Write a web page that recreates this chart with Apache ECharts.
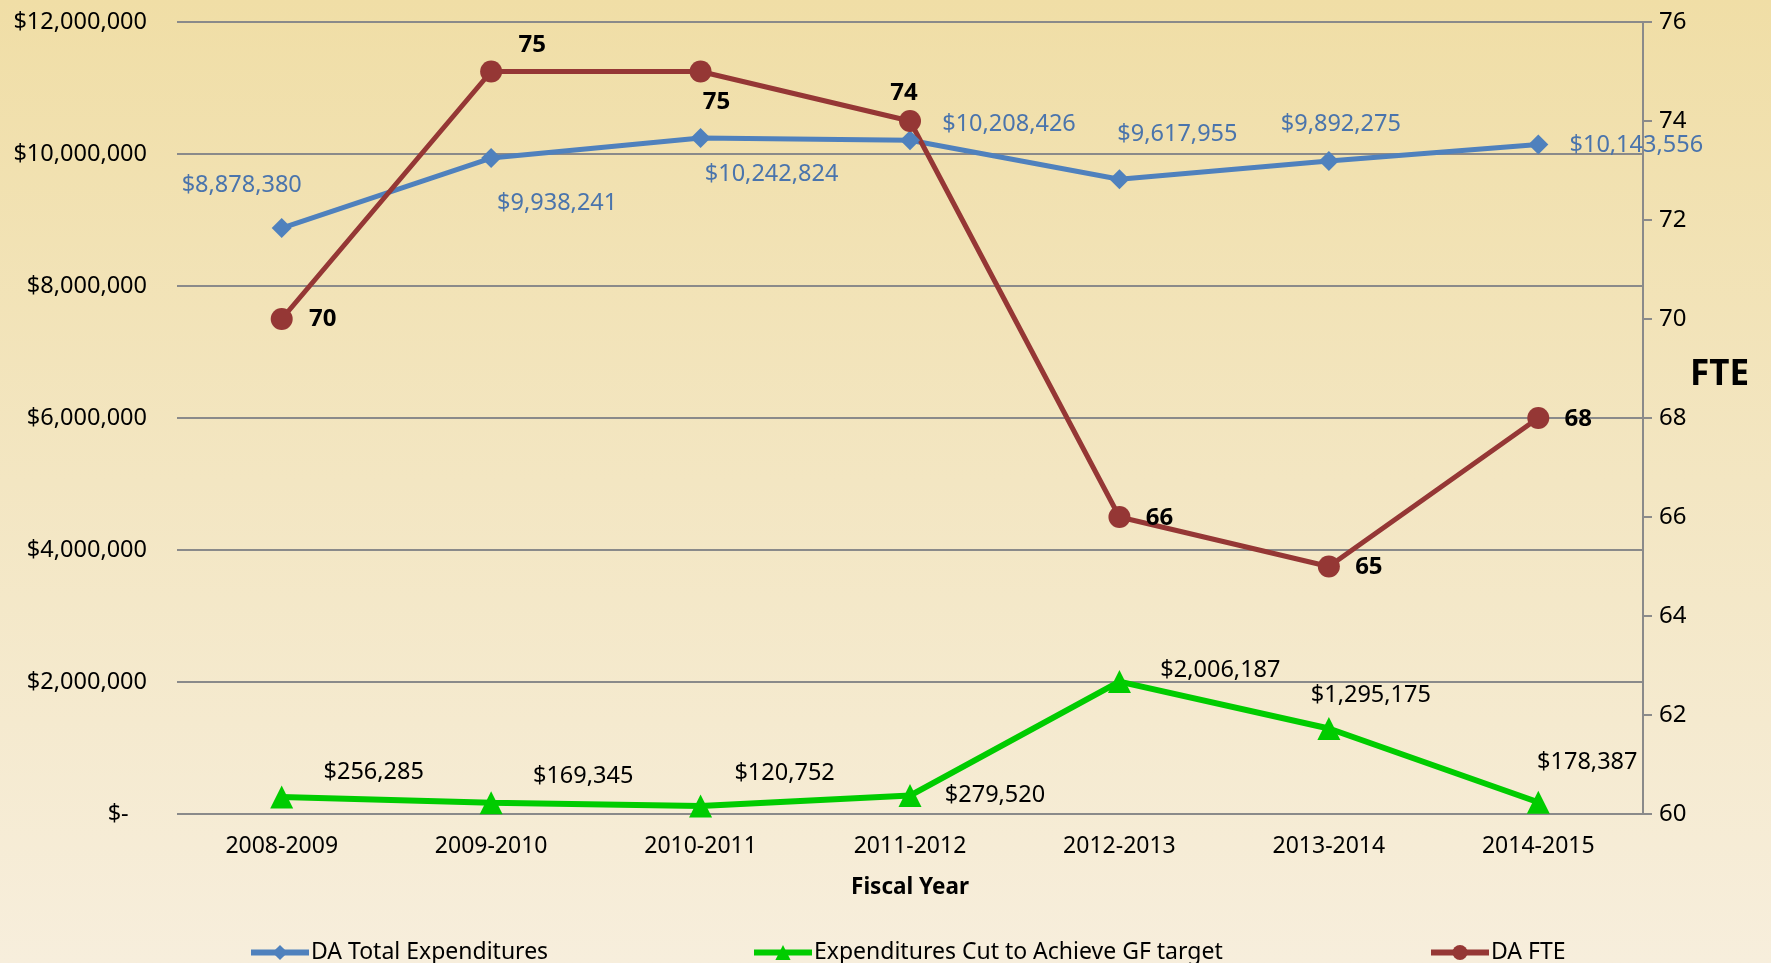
<!DOCTYPE html>
<html>
<head>
<meta charset="utf-8">
<script src="https://cdn.jsdelivr.net/npm/echarts@6/dist/echarts.min.js"></script>
<style>
  html, body { margin: 0; padding: 0; }
  body { background: linear-gradient(180deg, #f0dea6 0%, #f3e6c2 50%, #f7eedc 100%); }
  #chart { width: 1771px; height: 963px; }
</style>
</head>
<body>
<div id="chart"></div>
<script>
const years = ["2008-2009", "2009-2010", "2010-2011", "2011-2012", "2012-2013", "2013-2014", "2014-2015"];
// DA Total Expenditures
const totalExp = [8878380, 9938241, 10242824, 10208426, 9617955, 9892275, 10143556];
// Expenditures Cut to Achieve GF target
const cutExp = [256285, 169345, 120752, 279520, 2006187, 1295175, 178387];
// DA FTE
const fte = [70, 75, 75, 74, 66, 65, 68];

// label nudges (px) so they sit like the original
const totalOffsets = [[-40, -43], [66, 45], [71, 36], [99, -16], [58, -45], [12, -37], [98, 1]];
const cutOffsets = [[92, -25], [92, -27], [84, -33], [85, 0], [101, -11], [42, -33], [49, -40]];
const fteOffsets = [[41, 0], [41, -26], [16, 31], [-6, -28], [40, 1], [40, 1], [40, 1]];

const font = "'Noto Sans', 'Open Sans', sans-serif";
const money = (v) => "$" + Number(v).toLocaleString("en-US");

const withLabels = (values, offsets, fmt, style) =>
  values.map((v, i) => ({
    value: v,
    label: { show: true, position: "inside", offset: offsets[i], formatter: () => fmt(v), ...style },
  }));

const chart = echarts.init(document.getElementById("chart"), null, { renderer: "canvas" });

const options = {
  animation: false,
  textStyle: { fontFamily: font },
  grid: { left: 177, right: 128, top: 22, bottom: 149 },
  legend: [
    { left: 243, top: 936, data: ["DA Total Expenditures"] },
    { left: 746, top: 936, data: ["Expenditures Cut to Achieve GF target"] },
    { left: 1423, top: 936, data: ["DA FTE"] },
  ].map((l) => ({
    ...l,
    itemWidth: 58,
    itemHeight: 19,
    itemGap: 4,
    lineStyle: { width: 6 },
    textStyle: { fontFamily: font, fontSize: 23, color: "#000", padding: [0, 0, 0, -3] },
  })),
  xAxis: {
    type: "category",
    data: years,
    boundaryGap: true,
    name: "Fiscal Year",
    nameLocation: "middle",
    nameGap: 62,
    nameTextStyle: { fontFamily: font, fontSize: 22.5, fontWeight: "bold", color: "#000" },
    axisLine: { show: false },
    axisTick: { show: false },
    axisLabel: { margin: 21, fontSize: 23, color: "#000", fontFamily: font },
  },
  yAxis: [
    {
      type: "value",
      min: 0,
      max: 12000000,
      interval: 2000000,
      axisLine: { show: false },
      axisTick: { show: false },
      axisLabel: {
        margin: 30,
        fontSize: 23.5,
        color: "#000",
        fontFamily: font,
        formatter: (v) => (v === 0 ? "$-   " : money(v)),
      },
      splitLine: { lineStyle: { color: "#8a8a8a", width: 2 } },
    },
    {
      type: "value",
      min: 60,
      max: 76,
      interval: 2,
      position: "right",
      axisLine: { show: true, lineStyle: { color: "#8a8a8a", width: 2 } },
      axisTick: { show: true, length: 9, lineStyle: { color: "#8a8a8a", width: 2 } },
      axisLabel: { margin: 16, fontSize: 24, color: "#000", fontFamily: font },
      splitLine: { show: false },
    },
  ],
  graphic: [
    {
      type: "text",
      left: 1690,
      top: 358,
      style: { text: "FTE", font: "bold 35px " + font, fill: "#000" },
    },
  ],
  series: [
    {
      name: "DA Total Expenditures",
      type: "line",
      yAxisIndex: 0,
      symbol: "diamond",
      symbolSize: 20,
      color: "#4f81bd",
      lineStyle: { width: 5, color: "#4f81bd" },
      data: withLabels(totalExp, totalOffsets, money, {
        fontSize: 23.5,
        color: "#4a74ac",
        fontFamily: font,
      }),
    },
    {
      name: "Expenditures Cut to Achieve GF target",
      type: "line",
      yAxisIndex: 0,
      symbol: "triangle",
      symbolSize: [23, 23],
      color: "#00cc00",
      lineStyle: { width: 6, color: "#00cc00" },
      data: withLabels(cutExp, cutOffsets, money, {
        fontSize: 23.5,
        color: "#000",
        fontFamily: font,
      }),
    },
    {
      name: "DA FTE",
      type: "line",
      yAxisIndex: 1,
      symbol: "circle",
      symbolSize: 22,
      color: "#953735",
      lineStyle: { width: 5, color: "#953735" },
      data: withLabels(fte, fteOffsets, (v) => String(v), {
        fontSize: 24,
        fontWeight: "bold",
        color: "#000",
        fontFamily: font,
      }),
    },
  ],
};

chart.setOption(options);
</script>
</body>
</html>
